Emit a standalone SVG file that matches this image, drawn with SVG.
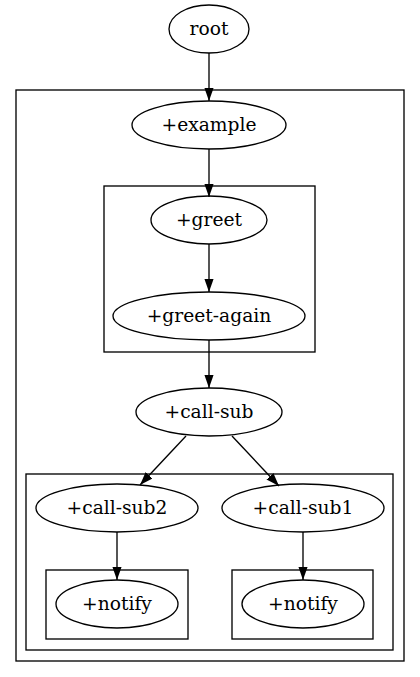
<svg xmlns="http://www.w3.org/2000/svg" width="420" height="677" viewBox="0 0 420 677">
<style>
.n ellipse{fill:none;stroke:#000;stroke-width:1.33}
.n text{font-family:"DejaVu Serif",serif;font-size:18.67px;text-anchor:middle;fill:#000}
.c{fill:none;stroke:#000;stroke-width:1.33}
.e line{stroke:#000;stroke-width:1.33}
</style>
<defs>
<marker id="ah" markerUnits="userSpaceOnUse" markerWidth="14" markerHeight="10" refX="13.3" refY="4.67" orient="auto">
<path d="M0,0 L13.3,4.67 L0,9.33 z" fill="#000"/>
</marker>
</defs>
<rect width="420" height="677" fill="#fff"/>
<g id="clusters">
<rect class="c" x="16" y="90" width="388" height="571"/>
<rect class="c" x="104" y="186" width="211" height="166"/>
<rect class="c" x="26" y="474" width="367" height="176"/>
<rect class="c" x="46" y="570" width="142" height="69"/>
<rect class="c" x="232" y="570" width="141" height="69"/>
</g>
<g id="edges" class="e">
<line x1="209" y1="53" x2="209" y2="101" marker-end="url(#ah)"/>
<line x1="209" y1="149" x2="209" y2="197" marker-end="url(#ah)"/>
<line x1="209" y1="244" x2="209" y2="292" marker-end="url(#ah)"/>
<line x1="209" y1="340" x2="209" y2="388" marker-end="url(#ah)"/>
<line x1="186" y1="436" x2="140" y2="485" marker-end="url(#ah)"/>
<line x1="232" y1="436" x2="279" y2="486" marker-end="url(#ah)"/>
<line x1="117" y1="532" x2="117" y2="580" marker-end="url(#ah)"/>
<line x1="303" y1="532" x2="303" y2="580" marker-end="url(#ah)"/>
</g>
<g id="root" class="n"><ellipse cx="209" cy="29" rx="40" ry="24"/><text x="209" y="35">root</text></g>
<g id="example" class="n"><ellipse cx="209" cy="125" rx="77" ry="24"/><text x="209" y="131">+example</text></g>
<g id="greet" class="n"><ellipse cx="209" cy="220" rx="58" ry="24"/><text x="209" y="226">+greet</text></g>
<g id="greet-again" class="n"><ellipse cx="209" cy="316" rx="96" ry="24"/><text x="209" y="322">+greet-again</text></g>
<g id="call-sub" class="n"><ellipse cx="209" cy="412" rx="73" ry="24"/><text x="209" y="418">+call-sub</text></g>
<g id="call-sub2" class="n"><ellipse cx="117" cy="508" rx="81" ry="24"/><text x="117" y="514">+call-sub2</text></g>
<g id="call-sub1" class="n"><ellipse cx="303" cy="508" rx="81" ry="24"/><text x="303" y="514">+call-sub1</text></g>
<g id="notify2" class="n"><ellipse cx="117" cy="604" rx="61" ry="24"/><text x="117" y="610">+notify</text></g>
<g id="notify1" class="n"><ellipse cx="303" cy="604" rx="61" ry="24"/><text x="303" y="610">+notify</text></g>
</svg>
